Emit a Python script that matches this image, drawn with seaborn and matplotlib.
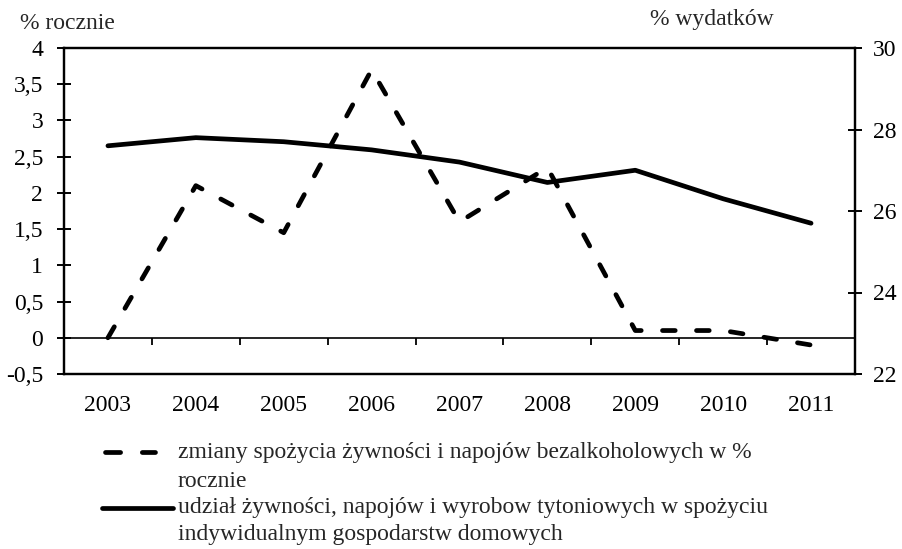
import matplotlib
matplotlib.use("Agg")
import matplotlib.pyplot as plt
import seaborn as sns
import pandas as pd
from matplotlib.lines import Line2D

years = ["2003", "2004", "2005", "2006", "2007", "2008", "2009", "2010", "2011"]
zmiany = [0.0, 2.1, 1.45, 3.7, 1.6, 2.35, 0.1, 0.1, -0.1]
udzial = [27.6, 27.8, 27.7, 27.5, 27.2, 26.7, 27.0, 26.3, 25.7]
left_ticks = [-0.5, 0, 0.5, 1, 1.5, 2, 2.5, 3, 3.5, 4]
left_labels = ["-0,5", "0", "0,5", "1", "1,5", "2", "2,5", "3", "3,5", "4"]
right_ticks = [22, 24, 26, 28, 30]
label_dashed = ["zmiany spożycia żywności i napojów bezalkoholowych w %", "rocznie"]
label_solid = ["udział żywności, napojów i wyrobow tytoniowych w spożyciu",
               "indywidualnym gospodarstw domowych"]

sns.set_theme(style="white")
plt.rcParams["font.family"] = ["Liberation Serif", "DejaVu Serif"]
FS = 17
plt.rcParams["font.size"] = FS

df = pd.DataFrame({"pos": range(len(years)), "zmiany": zmiany, "udzial": udzial})

W, H = 902, 549
fig = plt.figure(figsize=(W / 100, H / 100), dpi=100)
ax = fig.add_axes([64 / W, 1 - 374 / H, (855 - 64) / W, (374 - 48) / H])
ax2 = ax.twinx()

LW = 3.4
sns.lineplot(data=df, x="pos", y="zmiany", ax=ax, color="black", linewidth=LW,
             legend=False)
dl = ax.lines[-1]
dl.set_dashes((2.7, 4.5))
dl.set_dash_capstyle("round")
sns.lineplot(data=df, x="pos", y="udzial", ax=ax2, color="black", linewidth=LW,
             legend=False)
ax2.lines[-1].set_solid_joinstyle("round")

ax.set_xlim(-0.5, len(years) - 0.5)
ax.set_ylim(-0.5, 4)
ax2.set_ylim(22, 30)
ax.set_xlabel("")
ax.set_ylabel("")
ax2.set_ylabel("")

ax.set_xticks(range(len(years)))
ax.set_xticklabels(years)
ax.tick_params(axis="x", length=0, pad=15, labelsize=FS, colors="black")
ax.set_yticks(left_ticks)
ax.set_yticklabels(left_labels)
ax.tick_params(axis="y", direction="inout", length=10, width=1.4, pad=10, labelsize=FS,
               colors="black", left=True)
ax2.set_yticks(right_ticks)
ax2.set_yticklabels([str(t) for t in right_ticks])
ax2.tick_params(axis="y", direction="inout", length=10, width=1.4, pad=8, labelsize=FS,
                colors="black", right=True)

for a in (ax, ax2):
    for s in a.spines.values():
        s.set_visible(True)
        s.set_color("black")
        s.set_linewidth(1.6)

# zero line with tick marks between categories
zero_frac = (0 - (-0.5)) / (4 - (-0.5))
sec = ax.secondary_xaxis(zero_frac)
sec.set_xticks([i + 0.5 for i in range(len(years) - 1)])
sec.set_xticklabels([])
sec.tick_params(axis="x", direction="out", length=5, width=1.3, colors="black")
sec.spines["bottom"].set_linewidth(1.2)
sec.spines["bottom"].set_color("black")

fig.text(20 / W, 1 - 29 / H, "% rocznie", fontsize=FS, va="baseline", ha="left")
fig.text(650 / W, 1 - 25 / H, "% wydatków", fontsize=FS, va="baseline", ha="left")

# legend
y1 = 1 - 452 / H
y2 = 1 - 508 / H
fig.add_artist(Line2D([104.5 / W, 154.5 / W], [y1, y1], color="black", linewidth=LW,
                      dashes=(3.2, 4.6), dash_capstyle="round", transform=fig.transFigure))
fig.add_artist(Line2D([102 / W, 173 / W], [y2, y2], color="black", linewidth=LW,
                      transform=fig.transFigure))
for txt, yb in zip(label_dashed + label_solid, [458, 487, 513, 540]):
    fig.text(178 / W, 1 - yb / H, txt, fontsize=FS, va="baseline", ha="left")

fig.savefig("out.png", dpi=100)
